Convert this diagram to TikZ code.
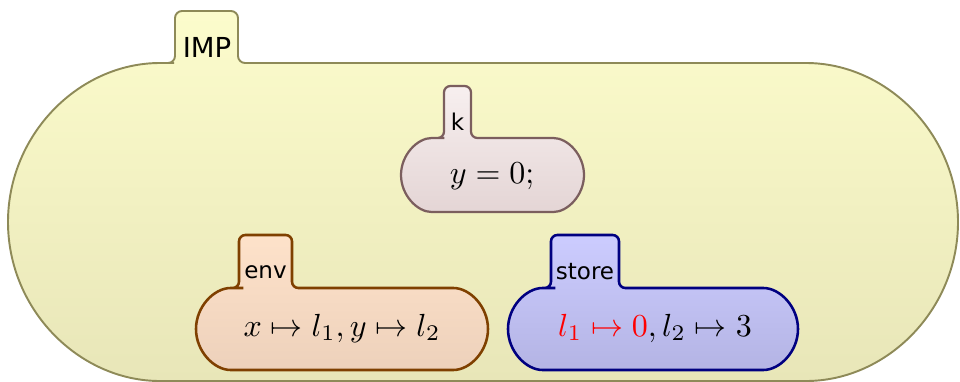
\documentclass[tikz,border=0pt]{standalone}
\usepackage{amsmath}
\usepackage{fontspec}
\newfontfamily\cellfont{DejaVu Sans}

\definecolor{impline}{HTML}{8E8A58}
\definecolor{imptop}{HTML}{FCFCCC}
\definecolor{impbot}{HTML}{E8E6B8}
\definecolor{kline}{HTML}{7B5E5E}
\definecolor{ktop}{HTML}{F7EFEF}
\definecolor{kbot}{HTML}{E4D5D5}
\definecolor{envline}{HTML}{7F4000}
\definecolor{envtop}{HTML}{FEE2CA}
\definecolor{envbot}{HTML}{EDD1BB}
\definecolor{storeline}{HTML}{000080}
\definecolor{storetop}{HTML}{CCCCFF}
\definecolor{storebot}{HTML}{B4B4E4}

% cell with a tab: style, body x1, x2, y bottom, y top, tab x1, x2, tab top
\newcommand{\kcell}[8]{%
  \pgfmathsetmacro\kr{(#5-#4)/2}
  \path[#1] (#6,#5) -- (#6,#8) -- (#7,#8) -- (#7,#5) -- ({#3-\kr},#5)
    arc[start angle=90,end angle=-90,radius=\kr] -- ({#2+\kr},#4)
    arc[start angle=270,end angle=90,radius=\kr] -- cycle;}

\tikzset{
  cellshape/.style={rounded corners=2pt, line width=0.7pt},
  celltitle/.style={font=\cellfont\fontsize{7.2}{9}\selectfont, inner sep=0pt},
}

\begin{document}
\begin{tikzpicture}[x=0.3125pt, y=0.3125pt]
    \useasboundingbox (0,0) rectangle (960,381);
    % outer cell
    \kcell{cellshape, line width=0.6pt, rounded corners=2.2pt, draw=impline, top color=imptop, bottom color=impbot}{8}{958}{0}{318}{175}{238}{370}
    \node[celltitle, font=\cellfont\fontsize{8.6}{10}\selectfont] (imptitle) at (207,334) {IMP};
    % inner cells
    \kcell{cellshape, draw=kline, top color=ktop, bottom color=kbot}{401}{584}{169}{243}{444}{471}{295}
    \node[celltitle] (ktitle) at (457.5,259) {k};
    \node (kbody) at (492,205) {$y = 0;$};
    \kcell{cellshape, line width=0.8pt, draw=envline, top color=envtop, bottom color=envbot}{196}{488}{11}{93}{239}{292}{146}
    \node[celltitle] (envtitle) at (265.5,109) {env};
    \node (envbody) at (342,53) {$x \mapsto l_1, y \mapsto l_2$};
    \kcell{cellshape, line width=0.8pt, draw=storeline, top color=storetop, bottom color=storebot}{508}{798}{11}{93}{551}{619}{146}
    \node[celltitle] (storetitle) at (585,109) {store};
    \node (storebody) at (655,53) {$\textcolor{red}{l_1 \mapsto 0}, l_2 \mapsto 3$};
\end{tikzpicture}
\end{document}
